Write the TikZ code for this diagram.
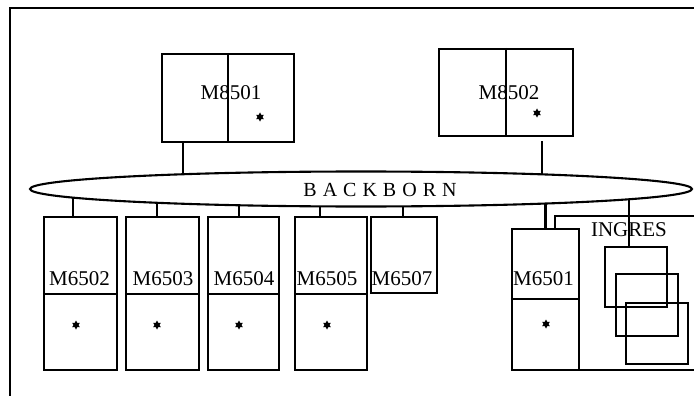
\documentclass[tikz,border=0pt]{standalone}
\usepackage{fontspec}
\setmainfont{Liberation Serif}
\usetikzlibrary{shapes.geometric,backgrounds}
\begin{document}
\begin{tikzpicture}[x=1pt,y=-1pt,
  box/.style={draw, line width=2.1pt, fill=white, inner sep=0pt},
  obox/.style={draw, line width=2.1pt, inner sep=0pt},
  lbl/.style={font=\fontsize{21}{21}\selectfont, inner sep=0pt},
  ln/.style={line width=2.1pt},
  dot/.style={star, star points=6, star point ratio=1.8, fill=black, inner sep=0pt, minimum size=9pt}]
\useasboundingbox (0,0) rectangle (694,396);
\clip (0,0) rectangle (694,396);
% upper hosts
\node[box, minimum width=132pt, minimum height=88pt] (m8501) at (228,98) {};
\draw[ln] (m8501.north) -- (m8501.south);
\node[lbl] (t8501) at (231,93) {M8501};
\node[dot] (s8501) at (260,117) {};
\node[box, minimum width=134pt, minimum height=87pt] (m8502) at (506,92.5) {};
\draw[ln] (m8502.north) -- (m8502.south);
\node[lbl] (t8502) at (509,93) {M8502};
\node[dot] (s8502) at (537,113) {};
% backbone
\node[ellipse, draw, line width=2.1pt, fill=white, minimum width=662pt, minimum height=35pt, inner sep=0pt] (bb) at (361,189) {};
\node[inner sep=0pt, font=\fontsize{20}{20}\selectfont] (tbb) at (380,190) {B\kern6pt A\kern6pt C\kern6pt K\kern6pt B\kern6pt O\kern6pt R\kern6pt N};
% lower hosts
\node[box, minimum width=73pt, minimum height=153pt] (m6502) at (80.5,293.5) {};
\node[box, minimum width=73pt, minimum height=153pt] (m6503) at (162.5,293.5) {};
\node[box, minimum width=71pt, minimum height=153pt] (m6504) at (243.5,293.5) {};
\node[box, minimum width=72pt, minimum height=153pt] (m6505) at (331,293.5) {};
\node[box, minimum width=66pt, minimum height=76pt] (m6507) at (404,255) {};
\node[box, minimum width=67pt, minimum height=141pt] (m6501) at (545.5,299.5) {};
\foreach \n in {m6502,m6503,m6504,m6505}{
  \draw[ln] (\n.west |- 0,294) -- (\n.east |- 0,294);
}
\draw[ln] (m6501.west |- 0,299) -- (m6501.east |- 0,299);
\node[lbl] (t6502) at (79.5,279) {M6502};
\node[lbl] (t6503) at (163,279) {M6503};
\node[lbl] (t6504) at (244,279) {M6504};
\node[lbl] (t6505) at (327,279) {M6505};
\node[lbl] (t6507) at (402,279) {M6507};
\node[lbl] (t6501) at (543.5,279) {M6501};
\node[dot] (s6502) at (76,325) {};
\node[dot] (s6503) at (157,325) {};
\node[dot] (s6504) at (239,325) {};
\node[dot] (s6505) at (327,325) {};
\node[dot] (s6501) at (546,324) {};
% INGRES
\node[lbl] (tingres) at (629,229.5) {INGRES};
\node[obox, minimum width=62pt, minimum height=60pt] (b1) at (636,277) {};
\node[obox, minimum width=62pt, minimum height=62pt] (b2) at (647,305) {};
\node[obox, minimum width=62pt, minimum height=61pt] (b3) at (657,333.5) {};
\begin{scope}[on background layer]
  \draw[ln] (10,8) rectangle (720,420);
  \node[obox, minimum width=165pt, minimum height=154pt] (ingres) at (637.5,293) {};
  \draw[ln] ([xshift=-45pt]m8501.south) -- ([xshift=-45pt]m8501.south |- bb.center);
  \draw[ln] ([xshift=36pt,yshift=-4pt]m8502.south) -- ([xshift=36pt]m8502.south |- bb.center);
  \draw[ln] ([xshift=-7.5pt]m6502.north) -- ([xshift=-7.5pt]m6502.north |- bb.center);
  \draw[ln] ([xshift=-5.5pt]m6503.north) -- ([xshift=-5.5pt]m6503.north |- bb.center);
  \draw[ln] ([xshift=-4.5pt]m6504.north) -- ([xshift=-4.5pt]m6504.north |- bb.center);
  \draw[ln] ([xshift=-11pt]m6505.north) -- ([xshift=-11pt]m6505.north |- bb.center);
  \draw[ln] ([xshift=-1pt]m6507.north) -- ([xshift=-1pt]m6507.north |- bb.center);
  \draw[ln] (m6501.north) -- (m6501.north |- bb.center);
  \draw[ln] ([xshift=-7pt]b1.north) -- ([xshift=-7pt]b1.north |- bb.center);
\end{scope}
\end{tikzpicture}
\end{document}
